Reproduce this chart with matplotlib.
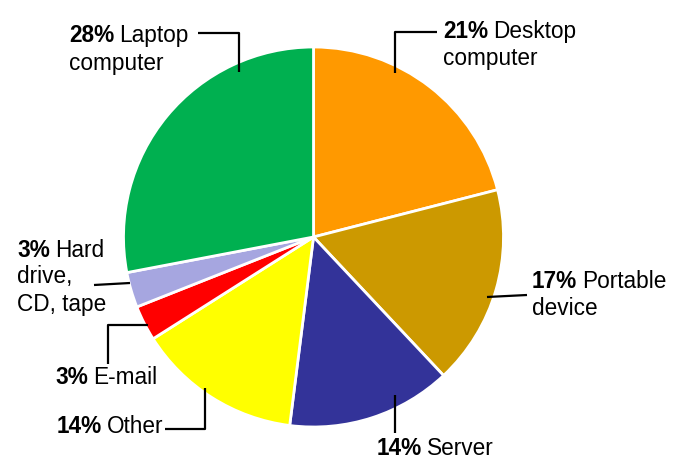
import matplotlib.pyplot as plt

plt.rcParams['font.family'] = ['Liberation Sans', 'DejaVu Sans']

# slices clockwise from 12 o'clock
categories = ["Desktop computer", "Portable device", "Server", "Other",
              "E-mail", "Hard drive, CD, tape", "Laptop computer"]
shares = [21, 17, 14, 14, 3, 3, 28]
label_lines = [["Desktop", "computer"], ["Portable", "device"], ["Server"],
               ["Other"], ["E-mail"], ["Hard", "drive,", "CD, tape"],
               ["Laptop", "computer"]]
colors = ["#FF9900", "#CC9900", "#333399", "#FFFF00", "#FF0000",
          "#A6A6E0", "#00B050"]

W, H = 686, 466
FS = 16.3

# label layout in image pixels (x of text, baselines, leader line points)
layout = {
    "Desktop computer": (443, [38, 65], [(437, 32), (395, 32), (395, 73)]),
    "Portable device": (532, [288, 315], [(527, 295), (487, 297)]),
    "Server": (377, [455], [(395, 433), (395, 395)]),
    "Other": (57, [433], [(165, 429), (205, 429), (205, 388)]),
    "E-mail": (55, [384], [(108, 364), (108, 325), (148, 325)]),
    "Hard drive, CD, tape": (17, [257, 283, 311], [(94, 285), (130, 283)]),
    "Laptop computer": (69, [42, 70], [(198, 33), (239, 33), (239, 72)]),
}

fig = plt.figure(figsize=(W / 100, H / 100), dpi=100)
ax = fig.add_axes([0, 0, 1, 1])
ax.pie(shares, colors=colors, startangle=90, counterclock=False,
       center=(313.5, H - 237), radius=190,
       wedgeprops=dict(edgecolor='white', linewidth=2))
ax.set_xlim(0, W)
ax.set_ylim(0, H)
ax.set_aspect('auto')
ax.axis('off')

for cat, share, lines in zip(categories, shares, label_lines):
    x, baselines, leader = layout[cat]
    bold = ax.text(x, H - baselines[0], f"{share}%", fontsize=FS,
                   fontweight='bold', ha='left', va='baseline')
    ax.annotate(lines[0], xy=(1, 0), xycoords=bold, fontsize=FS,
                xytext=(FS * 0.22, 0), textcoords='offset points',
                ha='left', va='bottom')
    for line, yb in zip(lines[1:], baselines[1:]):
        ax.text(x, H - yb, line, fontsize=FS, ha='left', va='baseline')
    ax.plot([p[0] for p in leader], [H - p[1] for p in leader],
            color='black', lw=1.6, solid_capstyle='butt')

fig.savefig('out.png', dpi=100)
